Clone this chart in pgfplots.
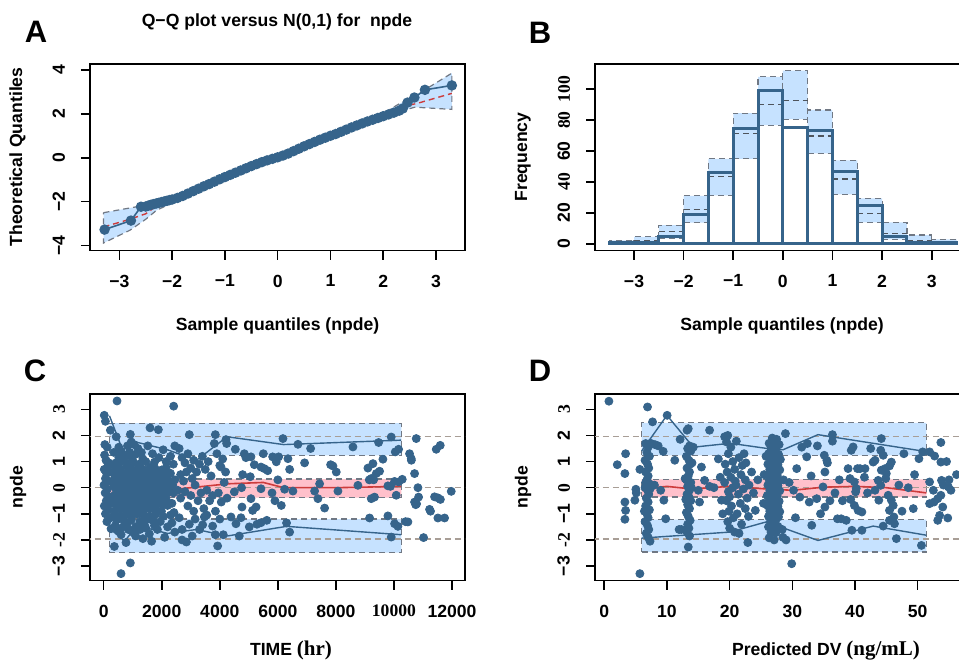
\documentclass[border=0pt]{standalone}
\usepackage{fontspec}
\setmainfont{Liberation Sans}
\newfontfamily\serif{Liberation Serif}
\usepackage{pgfplots}
\pgfplotsset{compat=1.18}

\definecolor{obs}{RGB}{54,100,139}
\definecolor{pifill}{RGB}{198,226,255}
\definecolor{medfill}{RGB}{255,192,203}
\definecolor{piline}{RGB}{112,120,132}
\definecolor{medline}{RGB}{205,60,60}
\definecolor{refline}{RGB}{168,158,150}

\newcommand{\tl}{\fontsize{8.8}{10}\selectfont\bfseries}

\pgfplotsset{
  rpanel/.style={
    scale only axis, height=93.4pt,
    axis line style={line width=0.8pt},
    tick align=outside, major tick length=4.5pt,
    tick style={black, line width=0.8pt},
    xtick pos=left, ytick pos=left,
    scaled x ticks=false, scaled y ticks=false,
    tick label style={font=\tl},
    xticklabel style={yshift=-4pt},
    yticklabel style={xshift=-4.5pt, rotate=90, anchor=south},
  },
  band/.style={fill=pifill, draw=piline, dash pattern=on 3pt off 2pt, line width=0.6pt},
  medband/.style={fill=medfill, draw=piline, dash pattern=on 3pt off 2pt, line width=0.6pt},
  refl/.style={refline, dash pattern=on 3pt off 2pt, line width=0.7pt},
  pts/.style={only marks, mark=*, mark size=2pt, color=obs},
}

\begin{document}
\begin{tikzpicture}
\useasboundingbox (0,0) rectangle (479.5pt,332pt);

% ---------- A : QQ plot
\begin{axis}[rpanel, at={(45pt,206.65pt)}, anchor=south west, width=187.5pt,
  xmin=-3.556, xmax=3.549, ymin=-4.23, ymax=4.27,
  xtick={-3,...,3}, xticklabels={−3,−2,−1,0,1,2,3},
  ytick={-4,-2,0,2,4}, yticklabels={−4,−2,0,2,4}]
\addplot[band] coordinates {
  (-3.3,-2.5)(-2.6,-2.2)(-2.3,-2.0)(-2.0,-1.78)(-1.0,-0.85)(0,0.06)(1,1.08)(2,2.02)
  (2.3,2.45)(2.57,2.77)(3.3,3.85)
  (3.3,2.2)(2.6,2.3)(2.3,2.1)(2,1.8)(1,0.9)(0,-0.06)(-1,-1.05)(-2.0,-2.05)
  (-2.3,-2.4)(-2.5,-2.8)(-2.8,-3.3)(-3.3,-3.88)(-3.3,-2.5)};
\addplot[medline, dash pattern=on 3pt off 2pt, line width=0.7pt] coordinates {
  (-3.3,-3.15)(-2.8,-2.8)(-2.5,-2.55)(-2.3,-2.2)(0,0)(2.3,2.3)(2.64,2.47)(3.3,2.93)};
\addplot[obs, line width=0.8pt, mark=*, mark size=2.2pt] coordinates {
  (-3.28,-3.27)(-2.78,-2.86)(-2.59,-2.23)(-2.50,-2.22)(-2.45,-2.18)(-2.40,-2.14)
  (-2.35,-2.11)(-2.30,-2.08)(-2.25,-2.05)(-2.20,-2.02)(-2.15,-1.99)(-2.10,-1.96)
  (-2.05,-1.93)(-2.00,-1.90)(-1.90,-1.83)(-1.80,-1.74)(-1.70,-1.63)(-1.60,-1.52)
  (-1.50,-1.41)(-1.40,-1.30)(-1.30,-1.20)(-1.20,-1.09)(-1.10,-0.98)(-1.00,-0.88)
  (-0.90,-0.78)(-0.80,-0.68)(-0.70,-0.58)(-0.60,-0.48)(-0.50,-0.38)(-0.40,-0.29)
  (-0.30,-0.20)(-0.20,-0.12)(-0.10,-0.05)(0.00,0.02)(0.10,0.10)(0.20,0.19)
  (0.30,0.30)(0.40,0.41)(0.50,0.52)(0.60,0.62)(0.70,0.72)(0.80,0.82)(0.90,0.91)
  (1.00,1.00)(1.10,1.08)(1.20,1.18)(1.30,1.28)(1.40,1.38)(1.50,1.47)(1.60,1.56)
  (1.70,1.65)(1.80,1.73)(1.90,1.81)(2.00,1.89)(2.10,1.97)(2.20,2.05)(2.30,2.14)
  (2.37,2.24)(2.46,2.51)(2.59,2.74)(2.79,3.09)(3.30,3.29)};
\end{axis}

% ---------- B : histogram
\begin{axis}[rpanel, at={(297.5pt,206.65pt)}, anchor=south west, width=183.5pt,
  xmin=-3.786, xmax=3.61, ymin=-4.5, ymax=116.4,
  xtick={-3,...,3}, xticklabels={−3,−2,−1,0,1,2,3},
  ytick={0,20,...,100}, yticklabels={0,20,{\serif 40},60,{\serif 80},{\serif 100}}]
\addplot[band, unbounded coords=jump] coordinates {
  (-3.5,0)(-3,0)(-3,2.2)(-3.5,2.2)(-3.5,0)(nan,nan)
  (-3,0)(-2.5,0)(-2.5,4.5)(-3,4.5)(-3,0)(nan,nan)
  (-2.5,3.5)(-2,3.5)(-2,12)(-2.5,12)(-2.5,3.5)(nan,nan)
  (-2,13.6)(-1.5,13.6)(-1.5,31)(-2,31)(-2,13.6)(nan,nan)
  (-1.5,31.3)(-1,31.3)(-1,55)(-1.5,55)(-1.5,31.3)(nan,nan)
  (-1,55)(-0.5,55)(-0.5,84.5)(-1,84.5)(-1,55)(nan,nan)
  (-0.5,76.7)(0,76.7)(0,108)(-0.5,108)(-0.5,76.7)(nan,nan)
  (0,80.6)(0.5,80.6)(0.5,112)(0,112)(0,80.6)(nan,nan)
  (0.5,58.5)(1,58.5)(1,86.6)(0.5,86.6)(0.5,58.5)(nan,nan)
  (1,32)(1.5,32)(1.5,54)(1,54)(1,32)(nan,nan)
  (1.5,13.8)(2,13.8)(2,29.4)(1.5,29.4)(1.5,13.8)(nan,nan)
  (2,2.8)(2.5,2.8)(2.5,13.8)(2,13.8)(2,2.8)(nan,nan)
  (2.5,0)(3,0)(3,5.6)(2.5,5.6)(2.5,0)(nan,nan)
  (3,0)(3.5,0)(3.5,2.8)(3,2.8)(3,0)};
\addplot[piline!70!black, dash pattern=on 3pt off 2pt, line width=0.7pt, unbounded coords=jump] coordinates {
  (-3.5,1)(-3,1)(nan,nan)(-3,2)(-2.5,2)(nan,nan)(-2.5,8)(-2,8)(nan,nan)
  (-2,22)(-1.5,22)(nan,nan)(-1.5,43.4)(-1,43.4)(nan,nan)(-1,71.5)(-0.5,71.5)(nan,nan)
  (-0.5,90.3)(0,90.3)(nan,nan)(0,92.9)(0.5,92.9)(nan,nan)(0.5,69.8)(1,69.8)(nan,nan)
  (1,42)(1.5,42)(nan,nan)(1.5,19.7)(2,19.7)(nan,nan)(2,6.7)(2.5,6.7)(nan,nan)
  (2.5,2)(3,2)(nan,nan)(3,1)(3.5,1)};
\addplot[ybar interval, draw=obs, fill=none, line width=1.5pt] coordinates {
  (-3.5,1)(-3,1)(-2.5,5)(-2,19)(-1.5,46)(-1,74.5)(-0.5,99)(0,75.5)
  (0.5,73)(1,47)(1.5,25)(2,5)(2.5,1)(3,1)(3.5,1)};
\end{axis}

% ---------- C : npde vs time
\begin{axis}[rpanel, at={(45pt,41.65pt)}, anchor=south west, width=187.5pt,
  xmin=-472, xmax=12448, ymin=-3.56, ymax=3.59,
  xtick={0,2000,...,12000}, xticklabels={0,2000,4000,6000,8000,{\serif 10000},12000},
  ytick={-3,...,3}, yticklabels={−3,{\serif -2},−1,{\serif 0},1,2,{\serif 3}}]
\addplot[band] coordinates {(195,1.24)(10255,1.24)(10255,2.47)(195,2.47)(195,1.24)};
\addplot[band] coordinates {(195,-2.49)(10255,-2.49)(10255,-1.2)(195,-1.2)(195,-2.49)};
\addplot[medband] coordinates {(195,-0.38)(10255,-0.38)(10255,0.33)(195,0.33)(195,-0.38)};
\addplot[refl] coordinates {(-1000,1.96)(13000,1.96)};
\addplot[refl] coordinates {(-1000,0)(13000,0)};
\addplot[refl] coordinates {(-1000,-1.96)(13000,-1.96)};
\addplot[obs, line width=0.7pt] coordinates {
  (200,2.75)(700,1.3)(1100,1.75)(2200,1.45)(3200,1.05)(4250,1.95)(6200,1.65)(10250,1.82)};
\addplot[obs, line width=0.7pt] coordinates {
  (200,-1.55)(720,-2.05)(1150,-1.45)(2200,-1.75)(3200,-1.6)(4250,-1.85)(6300,-1.48)(10250,-1.8)};
\addplot[medline, line width=0.8pt] coordinates {
  (200,0.02)(1000,-0.08)(2000,-0.12)(3000,0.0)(4300,0.15)(5500,0.2)(6200,0.0)(8000,0.0)(10250,0.05)};
\addplot[pts] coordinates {
  (20,2.77)(60,2.54)(230,2.2)(40,1.65)(120,1.55)(30,1.25)(80,1.05)(180,0.95)(150,0.85)
  (20,0.7)(100,0.55)(250,0.6)(60,0.35)(180,0.25)(10,0.1)(130,-0.05)(50,-0.2)(200,-0.35)
  (90,-0.5)(260,-0.6)(20,-0.7)(150,-0.85)(60,-1.0)(240,-1.15)(110,-1.3)(253,-1.57)(367,-2.25)
  (400,0.78)(560,0.72)(800,0.80)(960,0.74)(1200,0.77)(1360,0.70)(1600,0.79)(1770,0.73)(2000,0.68)(2150,0.76)
  (370,0.52)(600,0.58)(770,0.55)(1000,0.50)(1170,0.57)(1400,0.53)(1560,0.59)(1800,0.51)(1960,0.56)(2200,0.50)
  (390,0.38)(590,0.32)(790,0.36)(990,0.30)(1190,0.37)(1390,0.34)(1590,0.31)(1790,0.38)(1990,0.33)(2190,0.30)
  (360,0.12)(570,0.18)(760,0.14)(970,0.16)(1160,0.11)(1370,0.17)(1570,0.13)(1760,0.16)(1970,0.10)(2170,0.15)
  (400,-0.02)(600,-0.08)(810,-0.04)(1010,-0.07)(1210,-0.01)(1410,-0.06)(1610,-0.03)(1810,-0.08)(2010,-0.05)(2210,-0.02)
  (380,-0.28)(580,-0.22)(780,-0.27)(980,-0.23)(1180,-0.29)(1380,-0.21)(1580,-0.26)(1780,-0.24)(1980,-0.28)(2180,-0.22)
  (350,-0.42)(560,-0.48)(770,-0.44)(960,-0.47)(1170,-0.41)(1360,-0.46)(1560,-0.43)(1770,-0.49)(1960,-0.44)(2160,-0.47)
  (410,-0.62)(610,-0.68)(800,-0.63)(1010,-0.67)(1200,-0.61)(1410,-0.66)(1600,-0.69)(1800,-0.62)(2000,-0.65)(2200,-0.68)
  (390,-0.88)(590,-0.82)(790,-0.87)(990,-0.83)(1190,-0.89)(1390,-0.84)(1590,-0.81)(1790,-0.86)(1990,-0.90)
  (370,-1.02)(580,-1.08)(770,-1.04)(980,-1.07)(1180,-1.01)(1380,-1.06)(1580,-1.09)(1780,-1.03)
  (450,-1.22)(700,-1.28)(950,-1.24)(1250,-1.30)(1500,-1.21)(1700,-1.27)
  (480,0.45)(680,0.47)(880,0.43)(1080,0.46)(1280,0.44)(1480,0.48)(1680,0.42)
  (470,0.25)(690,0.23)(870,0.27)(1090,0.24)(1270,0.26)(1490,0.22)(1670,0.25)
  (490,0.05)(670,0.07)(890,0.03)(1070,0.06)(1290,0.04)(1470,0.08)(1690,0.02)
  (480,-0.15)(680,-0.13)(880,-0.17)(1080,-0.14)(1280,-0.16)(1480,-0.12)(1680,-0.18)
  (470,-0.35)(690,-0.37)(870,-0.33)(1090,-0.36)(1270,-0.34)(1490,-0.38)(1670,-0.32)
  (490,-0.55)(670,-0.53)(890,-0.57)(1070,-0.54)(1290,-0.56)(1470,-0.52)(1690,-0.58)
  (480,-0.75)(680,-0.77)(880,-0.73)(1080,-0.76)(1280,-0.74)(1480,-0.78)(1680,-0.72)
  (420,0.95)(620,1.0)(820,0.92)(1020,0.98)(1220,0.9)(520,1.15)(760,1.2)(980,1.12)(1150,1.3)
  (350,1.35)(600,1.4)(900,1.35)(400,-1.45)(800,-1.4)(1100,-1.5)(1400,-1.42)(600,-1.55)
  (430,1.95)(520,1.55)(650,1.25)(820,1.6)(918,2.04)(950,1.75)(1050,1.65)(1180,1.5)(1300,1.35)
  (1350,1.1)(1450,1.0)(1520,1.6)(1596,2.29)(1680,1.3)(1750,0.98)(1883,2.22)(1900,1.15)(2050,1.45)
  (2150,1.0)(2300,1.2)(2400,0.9)(2450,1.6)(2300,0.55)(2450,0.3)(2400,-0.2)(2350,-0.6)(2380,0.1)(2420,-0.95)
  (500,-1.65)(600,-1.8)(769,-2.1)(850,-1.6)(918,-2.88)(597,-3.29)(1000,-1.7)(1100,-1.85)(1250,-1.6)
  (1350,-1.95)(1450,-1.55)(1573,-1.77)(1650,-2.05)(1750,-1.45)(1850,-1.6)(1950,-1.3)(2100,-1.9)
  (2200,-1.5)(2350,-1.35)(2450,-1.7)(2050,-1.1)(2300,-1.05)(459,3.32)(2411,3.12)
  (2950,2.03)(3846,2.03)(4213,1.84)(4236,1.69)(2600,1.5)(2700,1.15)(2800,0.95)(2900,1.3)(3000,0.75)
  (3100,1.05)(3200,0.6)(3300,0.9)(3400,1.2)(3500,0.7)(3600,1.0)(3700,0.45)(3811,1.69)(3900,1.3)
  (4000,0.85)(4100,1.1)(4200,0.6)(2650,0.5)(2750,0.25)(2850,0.6)(3050,0.35)
  (2550,-0.1)(2650,-0.4)(2800,-0.15)(2900,-0.7)(3000,-0.3)(3100,-0.9)(3150,0.1)(3250,-0.5)(3350,-0.2)
  (3450,-0.8)(3550,-0.1)(3650,-0.5)(3750,-0.3)(3850,-0.9)(3950,-0.2)(4050,-0.55)(4150,0.2)(4250,-0.4)
  (2600,-1.15)(2700,-1.6)(2850,-2.08)(2950,-1.4)(3050,-1.85)(3150,-1.2)(3300,-1.6)(3410,-1.42)
  (3467,-1.12)(3550,-1.05)(3754,-1.47)(3846,-1.8)(3926,-2.23)(4121,-1.8)(4000,-1.2)(2700,-2.0)
  (4535,1.47)(4845,1.30)(4900,1.15)(5074,1.18)(5189,0.88)(5419,0.79)(5533,0.73)(5650,0.65)(5821,1.18)
  (5500,1.3)(4787,0.50)(5050,0.42)(4041,0.79)(4500,-0.16)(4750,0.0)(5074,-0.42)(5419,-0.04)(5800,-0.2)
  (4764,-0.74)(5131,-0.87)(5250,-0.74)(4385,-1.12)(4730,-1.15)(4557,-1.38)(5017,-1.5)(5280,-1.4)
  (5419,-1.34)(5620,-1.25)(4672,-1.85)
  (6176,1.88)(6693,1.66)(7129,1.50)(8587,1.56)(9471,1.73)(9907,1.94)(10045,1.37)(10160,1.47)
  (6027,1.18)(5946,0.99)(6348,1.11)(6406,0.70)(6922,0.95)(7818,0.88)(7898,0.83)(8013,0.60)(9103,0.75)
  (9276,0.92)(9390,0.54)(9505,0.63)(9620,1.09)(9218,0.35)(9300,0.30)(9150,0.30)(10022,0.24)
  (10160,0.22)(10286,0.32)(7439,0.15)(8759,0.09)(6233,-0.06)(6520,-0.13)(7267,-0.13)(7381,-0.42)
  (8070,-0.13)(7611,-0.78)(6119,-0.68)(9792,0.07)(9880,0.05)(10079,-0.29)(9218,-0.42)(9330,-0.36)
  (9161,-1.16)(9792,-1.08)(10022,-1.38)(10137,-1.48)(10481,-1.31)(9907,-1.89)(6406,-1.70)
  (6300,-1.35)(5900,-0.5)(6000,0.3)
  (10768,1.88)(10538,1.30)(10596,1.11)(11457,1.47)(11595,1.62)(10711,0.54)(10826,0.0)(10849,-0.36)
  (10711,-0.55)(10780,-0.62)(11514,-0.39)(11600,-0.45)(11400,-0.35)(11974,-0.14)(11227,-0.83)
  (11260,-0.9)(11514,-1.16)(11744,-1.16)(11021,-1.91)(10400,-1.3)(10600,1.05)(10750,-0.65)};
\end{axis}

% ---------- D : npde vs predicted DV
\begin{axis}[rpanel, at={(297.5pt,41.65pt)}, anchor=south west, width=183.5pt,
  xmin=-1.48, xmax=57.07, ymin=-3.56, ymax=3.59,
  xtick={0,10,...,50}, xticklabels={0,10,20,30,40,50},
  ytick={-3,...,3}, yticklabels={−3,{\serif -2},−1,{\serif 0},1,2,{\serif 3}}]
\addplot[band] coordinates {(5.94,1.24)(51.38,1.24)(51.38,2.48)(5.94,2.48)(5.94,1.24)};
\addplot[band] coordinates {(5.94,-2.46)(51.38,-2.46)(51.38,-1.22)(5.94,-1.22)(5.94,-2.46)};
\addplot[medband] coordinates {(5.94,-0.36)(51.38,-0.36)(51.38,0.32)(5.94,0.32)(5.94,-0.36)};
\addplot[refl] coordinates {(-5,1.96)(60,1.96)};
\addplot[refl] coordinates {(-5,0)(60,0)};
\addplot[refl] coordinates {(-5,-1.96)(60,-1.96)};
\addplot[obs, line width=0.7pt] coordinates {
  (5.95,1.4)(10.0,2.77)(14.2,1.55)(20.1,1.7)(26.0,1.5)(28.5,1.45)(34.1,2.03)(36.2,1.95)(51.4,1.38)};
\addplot[obs, line width=0.7pt] coordinates {
  (5.95,-1.93)(20.0,-1.7)(25.85,-1.31)(27.5,-1.45)(34.1,-2.02)(42.9,-1.47)(51.4,-1.82)};
\addplot[medline, line width=0.8pt] coordinates {
  (6,-0.1)(8,0.0)(10,0.05)(14,-0.05)(20,0.05)(26,-0.05)(30,-0.1)(35,0.02)(40,0.05)(45,0.0)(51.4,-0.2)};
\addplot[pts] coordinates {
  (0.74,3.31)(2.07,0.88)(3.4,1.30)(3.29,0.54)(5.04,-0.06)(5.1,-0.2)(4.88,-0.48)(3.29,-0.55)
  (3.4,-0.87)(3.29,-1.21)(5.68,-3.29)(5.68,0.70)(6.90,3.09)
  (6.6,1.69)(7.0,1.55)(6.8,1.35)(7.2,1.2)(6.5,1.05)(6.9,0.9)(7.1,0.75)(6.6,0.6)(7.0,0.45)(6.8,0.3)
  (7.2,0.15)(6.5,0.0)(6.9,-0.1)(7.1,-0.25)(6.7,-0.4)(7.0,-0.55)(6.6,-0.7)(7.2,-0.85)(6.8,-1.0)
  (7.0,-1.15)(6.5,-1.3)(6.9,-1.45)(7.1,-1.6)(6.7,-1.75)(7.0,-1.9)(7.3,-2.05)(6.6,0.2)(7.3,-0.05)
  (6.4,-0.9)(7.4,1.7)(7.7,2.52)(8.07,1.65)(8.6,1.6)(9.4,1.39)(9.8,-1.19)(9.5,-0.48)(10.03,2.77)
  (11.25,1.05)(11.94,-1.6)(8.0,0.1)(9.0,-0.1)
  (13.4,2.26)(13.2,2.2)(13.6,1.6)(13.3,1.5)(13.8,1.4)(13.1,1.2)(13.5,1.05)(13.7,0.9)(13.2,0.75)
  (13.6,0.6)(13.4,0.45)(13.1,0.3)(13.8,0.2)(13.3,0.05)(13.6,-0.1)(13.2,-0.25)(13.5,-0.35)(13.8,-0.5)
  (13.3,-0.65)(13.6,-0.8)(13.1,-0.95)(13.4,-1.1)(13.7,-1.25)(13.3,-1.4)(13.5,-1.55)(13.2,-1.7)
  (13.6,-1.85)(13.4,-2.27)(13.9,0.0)(12.9,0.35)(13.0,-0.45)(14.0,0.95)(12.3,-1.6)(12.1,1.85)(14.2,1.55)
  (15.5,0.79)(15.2,-0.55)(16.0,0.28)(16.8,0.05)(16.8,2.2)(18.7,-0.48)(17.5,0.0)(18.2,1.1)(15,-0.1)
  (19.7,2.0)(19.5,1.75)(21.07,1.78)(20.2,1.55)(19.8,1.3)(21.5,1.15)(20.5,1.0)(19.3,0.9)(22.0,0.85)
  (20.8,0.7)(19.6,0.6)(21.8,0.5)(20.2,0.4)(22.5,0.3)(19.2,0.2)(21.0,0.1)(20.5,0.0)(22.2,-0.05)
  (19.8,-0.15)(21.4,-0.25)(20.0,-0.35)(22.8,-0.4)(19.5,-0.5)(21.7,-0.6)(20.3,-0.7)(22.5,-0.8)
  (19.9,-0.9)(21.2,-1.0)(23.0,-1.1)(20.6,-1.15)(19.7,-1.3)(20.0,-1.55)(20.8,-1.7)(21.5,-1.75)
  (22.9,-2.1)(24.1,-0.87)(23.5,0.6)(18.9,-1.0)(19.2,1.95)(22.3,1.3)(23.1,0.1)(21.9,-1.4)(20.9,0.25)
  (24.5,0.3)(23.8,-0.2)(22.6,0.95)(18.5,0.4)
  (26.8,1.9)(27.5,1.85)(26.3,1.7)(27.2,1.72)(27.9,1.65)(26.6,1.5)(27.4,1.52)(26.2,1.3)(27.0,1.32)
  (27.8,1.28)(26.5,1.1)(27.3,1.12)(28.1,1.08)(26.1,0.9)(26.9,0.92)(27.7,0.88)(26.4,0.7)(27.2,0.72)
  (28.0,0.68)(26.0,0.5)(26.8,0.52)(27.6,0.48)(26.3,0.3)(27.1,0.32)(27.9,0.28)(26.1,0.1)(26.9,0.12)
  (27.7,0.08)(26.4,-0.1)(27.2,-0.08)(28.0,-0.12)(26.0,-0.3)(26.8,-0.28)(27.6,-0.32)(26.3,-0.5)
  (27.1,-0.48)(27.9,-0.52)(26.1,-0.7)(26.9,-0.68)(27.7,-0.72)(26.4,-0.9)(27.2,-0.88)(28.0,-0.92)
  (26.2,-1.1)(27.0,-1.08)(27.8,-1.12)(26.5,-1.3)(27.3,-1.28)(26.2,-1.5)(27.0,-1.52)(27.7,-1.48)
  (26.6,-1.7)(27.4,-1.72)(26.3,-1.92)(27.1,-2.0)(28.9,2.07)(25.5,0.5)(25.4,-0.6)(28.5,-1.9)
  (25.8,1.2)(28.6,0.3)(28.4,-1.6)(29.0,-2.0)
  (30.7,0.73)(29.9,-2.91)(32.4,1.69)(32.3,1.18)(32.7,-0.55)(31.2,-0.36)(33.1,-1.44)(34.0,1.6)
  (35.1,1.24)(35.5,1.05)(35.6,0.95)(35.2,0.6)(36.4,2.03)(36.4,1.78)(34.9,0.03)(33.9,-0.42)(35.2,-0.74)
  (37.2,-1.19)(29.5,0.2)(30.2,-0.1)(31.5,1.55)(33.0,0.45)(34.5,-1.0)(36.0,-0.5)(37.5,0.3)(30.5,-1.15)
  (36.8,-0.2)
  (38.9,0.73)(40.4,0.73)(40.8,0.73)(41.6,0.73)(39.2,0.35)(39.9,0.22)(40.2,-0.03)(40.1,-0.16)
  (39.3,-0.45)(39.9,-0.68)(40.5,-0.87)(41.1,-0.93)(37.8,-1.19)(38.6,-1.25)(39.5,-1.63)(41.1,-1.63)
  (39.4,1.43)(39.7,1.56)(42.9,0.98)(43.2,1.05)(44.2,1.88)(44.1,1.43)(44.5,1.24)(44.8,0.73)(45.0,0.54)
  (44.2,0.67)(44.9,0.35)(45.5,0.83)(45.8,0.98)(43.7,0.28)(44.1,0.09)(43.2,-0.1)(43.8,-0.48)
  (45.3,-0.29)(45.8,-0.48)(46.1,-0.68)(45.5,-0.87)(46.2,-1.12)(46.3,-1.38)(45.5,-1.25)(44.5,-1.47)
  (46.6,-1.95)(38.0,-0.5)(42.0,-0.2)(42.5,1.5)(41.5,0.4)(47.0,0.1)(47.5,-0.9)
  (49.3,-0.8)(47.8,1.3)(50.2,1.11)(50.8,1.37)(51.9,1.37)(52.7,1.21)(53.7,0.98)(54.6,1.0)(53.7,1.73)
  (50.6,-2.21)(51.9,0.22)(53.8,0.28)(54.1,0.1)(54.9,0.03)(55.3,-0.1)(51.9,-0.61)(52.6,-0.55)
  (53.2,-0.42)(53.7,-0.29)(54.0,-0.74)(53.5,-1.06)(53.2,-1.25)(54.8,-1.16)(56.2,0.5)(48.5,0.0)
  (49.5,0.5)(52.5,-0.1)(55.0,0.3)};
\end{axis}

% ---------- titles, panel letters, axis labels
\node[font=\tl] at (138.5pt,321pt) {Q−Q plot versus N(0,1) for\ \ npde};
\node[font=\fontsize{15.5}{18}\selectfont\bfseries] at (18pt,316pt) {A};
\node[font=\fontsize{15.5}{18}\selectfont\bfseries] at (270pt,315.5pt) {B};
\node[font=\fontsize{15.5}{18}\selectfont\bfseries] at (17.5pt,146.5pt) {C};
\node[font=\fontsize{15.5}{18}\selectfont\bfseries] at (270pt,146.5pt) {D};
\node[font=\tl, anchor=base] at (138.75pt,166.5pt) {Sample quantiles (npde)};
\node[font=\tl, anchor=base] at (391pt,166.5pt) {Sample quantiles (npde)};
\node[font=\tl, anchor=base] at (145.5pt,4pt) {TIME {\serif\fontsize{10.5}{12}\selectfont (hr)}};
\node[font=\tl, anchor=base] at (413pt,4pt) {Predicted DV {\serif\fontsize{10.5}{12}\selectfont (ng/mL)}};
\node[font=\tl, rotate=90] at (8.75pt,253.5pt) {Theoretical Quantiles};
\node[font=\tl, rotate=90] at (261.5pt,253.5pt) {Frequency};
\node[font=\tl, rotate=90] at (9pt,88.5pt) {npde};
\node[font=\tl, rotate=90] at (261.5pt,88.5pt) {npde};
\end{tikzpicture}
\end{document}
